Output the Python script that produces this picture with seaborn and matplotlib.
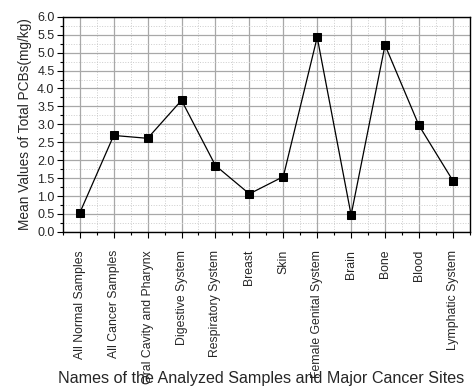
import matplotlib
matplotlib.use("Agg")
import matplotlib.pyplot as plt
from matplotlib.ticker import MultipleLocator
import seaborn as sns
import pandas as pd

# sample groups / cancer sites
sites = ["All Normal Samples", "All Cancer Samples", "Oral Cavity and Pharynx",
         "Digestive System", "Respiratory System", "Breast", "Skin",
         "Female Genital System", "Brain", "Bone", "Blood", "Lymphatic System"]
# mean total PCBs (mg/kg)
pcbs = [0.53, 2.69, 2.61, 3.67, 1.85, 1.06, 1.54, 5.43, 0.47, 5.21, 2.97, 1.43]

df = pd.DataFrame({"pos": range(len(sites)), "site": sites, "pcbs": pcbs})

sns.set_style("ticks")
plt.rcParams["font.family"] = ["Liberation Sans", "DejaVu Sans"]

fig = plt.figure(figsize=(4.76, 3.91), dpi=100)
ax = fig.add_axes([0.132, 0.407, 0.855, 0.550])

sns.lineplot(data=df, x="pos", y="pcbs", marker="s", color="black",
             markersize=5.5, linewidth=0.9, markeredgecolor="black", ax=ax)

ax.set_xlim(-0.5, len(sites) - 0.5)
ax.set_ylim(0, 6)
ax.set_xticks(range(len(sites)))
ax.set_xticklabels(sites, rotation=90, fontsize=8.8)
ax.xaxis.set_minor_locator(MultipleLocator(0.5))
ax.yaxis.set_major_locator(MultipleLocator(0.5))
ax.yaxis.set_minor_locator(MultipleLocator(0.25))
ax.yaxis.set_major_formatter(matplotlib.ticker.FormatStrFormatter("%.1f"))
ax.tick_params(axis="y", labelsize=9, pad=2)
ax.tick_params(axis="x", pad=9)
ax.tick_params(which="major", length=4, width=0.8, direction="out", color="black")
ax.tick_params(which="minor", length=2.5, width=0.8, direction="out", color="black")

ax.grid(which="major", color="#a8a8a8", linewidth=0.9, linestyle="-")
ax.grid(which="minor", color="#cccccc", linewidth=0.7, linestyle=":")
ax.set_axisbelow(True)
for sp in ax.spines.values():
    sp.set_visible(True)
    sp.set_linewidth(1.0)
    sp.set_color("black")

ax.set_xlabel("Names of the Analyzed Samples and Major Cancer Sites", fontsize=11.6)
ax.xaxis.set_label_coords(0.488, -0.645)
ax.set_ylabel("Mean Values of Total PCBs(mg/kg)", fontsize=9.8, labelpad=4)

fig.savefig("out.png", dpi=100)
